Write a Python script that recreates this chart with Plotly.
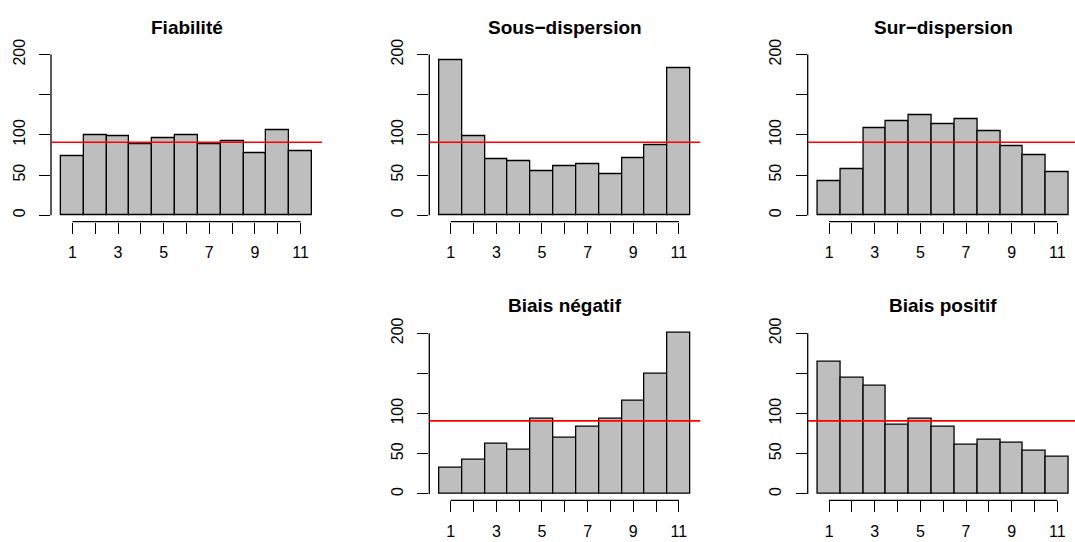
import plotly.graph_objects as go

# ---- data ----
RANKS = list(range(1, 12))
X_TICK_LABELS = ["1", "", "3", "", "5", "", "7", "", "9", "", "11"]
Y_TICKS = [0, 50, 100, 150, 200]
Y_TICK_LABELS = ["0", "50", "100", "", "200"]

fiabilite = [73, 100, 99, 89, 96, 100, 89, 92, 77, 106, 80]
sous_dispersion = [193, 99, 70, 67, 55, 61, 64, 51, 71, 87, 183]
sur_dispersion = [43, 57, 108, 117, 124, 113, 119, 105, 86, 75, 53]
biais_negatif = [33, 42, 62, 55, 94, 70, 83, 93, 116, 149, 201]
biais_positif = [164, 145, 135, 86, 93, 84, 61, 67, 64, 54, 46]

TITLES = ["Fiabilité", "Sous\u2212dispersion", "Sur\u2212dispersion",
          "Biais négatif", "Biais positif"]
SERIES = [fiabilite, sous_dispersion, sur_dispersion, biais_negatif, biais_positif]
N_TOTAL = 1000
EXPECTED = N_TOTAL / len(RANKS)

# ---- layout (pixels) ----
W, H = 1075, 542
COL_LEFT = [51, 429.3, 807.7]
PANEL_W = 271
ROW_TOP = [39.8, 323.2]
PANEL_H = 176.4
POS = [(0, 0), (1, 0), (2, 0), (1, 1), (2, 1)]  # (col,row)

XR = [0.06, 11.94]
YR = [-8, 208]
px_per_unit = PANEL_W / (XR[1] - XR[0])

FONT = "Liberation Sans, Arial, Helvetica, sans-serif"
LW = 1.3

fig = go.Figure()
layout = dict(
    width=W, height=H, margin=dict(l=0, r=0, t=0, b=0),
    paper_bgcolor="white", plot_bgcolor="white",
    showlegend=False, bargap=0, shapes=[], annotations=[],
)

for i, (vals, title, (c, r)) in enumerate(zip(SERIES, TITLES, POS), start=1):
    xs = "" if i == 1 else str(i)
    left = COL_LEFT[c]
    right = left + PANEL_W
    xr = list(XR)
    if right > W:
        xr[1] = XR[1] - (right - W) / px_per_unit
        right = W
    top = ROW_TOP[r]
    bottom = top + PANEL_H

    fig.add_trace(go.Bar(
        x=RANKS, y=vals, width=1, xaxis="x" + xs, yaxis="y" + xs,
        marker=dict(color="#BEBEBE", line=dict(color="black", width=LW)),
        hoverinfo="x+y",
    ))

    layout["xaxis" + xs] = dict(
        domain=[left / W, right / W], range=xr, anchor="y" + xs,
        tickvals=RANKS, ticktext=X_TICK_LABELS, ticks="outside", ticklen=11,
        tickwidth=LW, tickcolor="black", showline=False, showgrid=False,
        zeroline=False, tickfont=dict(family=FONT, size=16, color="black"),
        ticklabelstandoff=5, fixedrange=True,
    )
    layout["yaxis" + xs] = dict(
        domain=[1 - bottom / H, 1 - top / H], range=YR, anchor="x" + xs,
        tickvals=Y_TICKS, ticktext=Y_TICK_LABELS, tickangle=-90,
        ticks="outside", ticklen=11, tickwidth=LW, tickcolor="black",
        showline=False, showgrid=False, zeroline=False,
        tickfont=dict(family=FONT, size=16, color="black"),
        ticklabelstandoff=8, fixedrange=True,
    )
    # axis lines (R style: spanning first to last tick)
    layout["shapes"].append(dict(
        type="line", xref="x" + xs + " domain", yref="y" + xs,
        x0=0, x1=0, y0=Y_TICKS[0], y1=Y_TICKS[-1],
        line=dict(color="black", width=LW)))
    layout["shapes"].append(dict(
        type="line", xref="x" + xs, yref="y" + xs + " domain",
        x0=RANKS[0], x1=RANKS[-1], y0=0, y1=0,
        line=dict(color="black", width=LW)))
    # expected-count reference line
    layout["shapes"].append(dict(
        type="line", xref="x" + xs + " domain", yref="y" + xs,
        x0=0, x1=1, y0=EXPECTED, y1=EXPECTED,
        line=dict(color="red", width=1.6)))
    # title
    layout["annotations"].append(dict(
        text="<b>" + title + "</b>", xref="x" + xs, yref="paper",
        x=(RANKS[0] + RANKS[-1]) / 2, y=1 - (top - 21.3) / H,
        xanchor="center", yanchor="middle", showarrow=False,
        font=dict(family=FONT, size=19, color="black")))

fig.update_layout(**layout)
fig.write_html("out.html")
